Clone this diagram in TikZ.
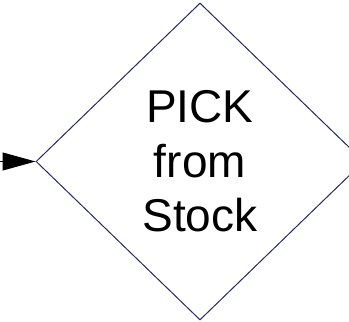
\documentclass[tikz,border=0pt]{standalone}
\usepackage{fontspec}
\setmainfont{Liberation Sans}
\usetikzlibrary{shapes.geometric,arrows.meta}
\definecolor{edgeblue}{RGB}{40,40,100}
\tikzset{
  decision/.style={diamond, draw=edgeblue, line width=1pt, inner sep=0pt,
    minimum width=328pt, minimum height=317pt, align=center,
    font=\fontsize{46pt}{54.5pt}\selectfont},
  flow/.style={line width=1pt, -{Triangle[length=33pt,width=18pt]}}
}
\begin{document}
\begin{tikzpicture}[x=1pt,y=1pt]
\useasboundingbox (0,0) rectangle (349,322);
\clip (0,0) rectangle (349,322);
\node[decision] (d) at (200,160.5) {PICK\\from\\Stock};
\coordinate (s) at (0,160.5);
\draw[flow] (s) -- (d.west);
\end{tikzpicture}
\end{document}
